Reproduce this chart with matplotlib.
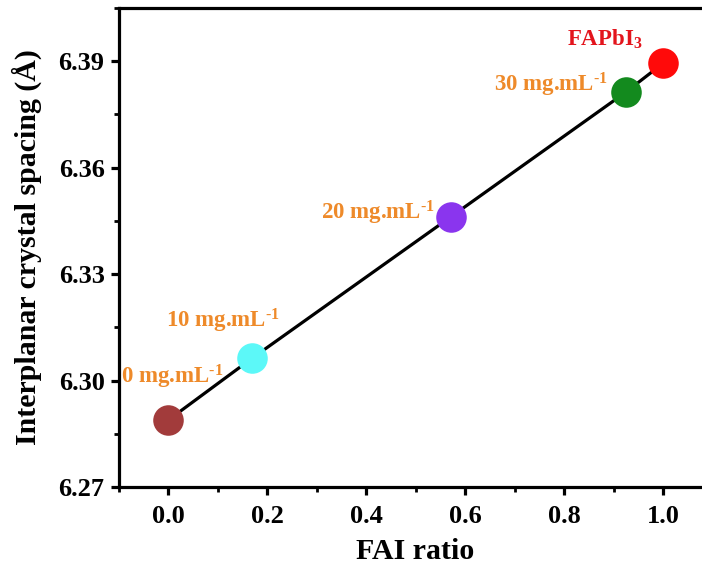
import matplotlib
matplotlib.use("Agg")
import matplotlib.pyplot as plt
from matplotlib.ticker import MultipleLocator, FormatStrFormatter

# ───────────────────────────── данные ─────────────────────────────
fai_ratio = [0.0, 0.17, 0.572, 0.925, 1.0]
spacing = [6.2888, 6.3063, 6.3462, 6.3813, 6.3894]
labels = [r"0 mg.mL$^{\text{-1}}$", r"10 mg.mL$^{\text{-1}}$", r"20 mg.mL$^{\text{-1}}$",
          r"30 mg.mL$^{\text{-1}}$", r"FAPbI$_3$"]
point_colors = ["#A23B3B", "#5CF8F8", "#8A35EE", "#138A1E", "#FF0A0A"]
label_colors = ["#EE8A2A", "#EE8A2A", "#EE8A2A", "#EE8A2A", "#E3141C"]
# смещение подписей (в пунктах) относительно точки
label_offsets = [(39.6, 31), (20, 26.5), (-12, 3), (-13, 5), (-14.4, 17)]

plt.rcParams["font.family"] = "Liberation Serif"
plt.rcParams["font.weight"] = "bold"
plt.rcParams["mathtext.fontset"] = "custom"
plt.rcParams["mathtext.rm"] = "Liberation Serif:bold"
plt.rcParams["mathtext.it"] = "Liberation Serif:bold"
plt.rcParams["mathtext.bf"] = "Liberation Serif:bold"

fig = plt.figure(figsize=(7.02, 5.67), dpi=100)
ax = fig.add_axes([118.5 / 702, 1 - 487 / 567, (712.5 - 118.5) / 702, (487 - 8) / 567])

ax.plot(fai_ratio, spacing, "-", color="black", linewidth=2.3, zorder=2)
for x, y, c in zip(fai_ratio, spacing, point_colors):
    ax.plot(x, y, "o", color=c, markersize=22, markeredgewidth=0, zorder=3)

for x, y, txt, c, off in zip(fai_ratio, spacing, labels, label_colors, label_offsets):
    ax.annotate(txt, (x, y), xytext=off, textcoords="offset points",
                ha="right", va="center", color=c, fontsize=16.5, fontweight="bold")

ax.set_xlim(-0.1, 1.1)
ax.set_ylim(6.27, 6.405)
ax.xaxis.set_major_locator(MultipleLocator(0.2))
ax.xaxis.set_minor_locator(MultipleLocator(0.1))
ax.yaxis.set_major_locator(MultipleLocator(0.03))
ax.yaxis.set_minor_locator(MultipleLocator(0.015))
ax.xaxis.set_major_formatter(FormatStrFormatter("%.1f"))
ax.yaxis.set_major_formatter(FormatStrFormatter("%.2f"))

for s in ax.spines.values():
    s.set_linewidth(2.3)
ax.tick_params(which="major", direction="out", length=6, width=2.3, labelsize=19, pad=7)
ax.tick_params(axis="y", which="major", pad=4)
ax.tick_params(which="minor", direction="out", length=3.5, width=2.0)
ax.tick_params(top=False, right=False)

ax.set_xlabel("FAI ratio", fontsize=21.5, fontweight="bold", labelpad=7)
ax.set_ylabel("Interplanar crystal spacing (Å)", fontsize=21.5, fontweight="bold", labelpad=12)

fig.savefig("out.png", dpi=100)
